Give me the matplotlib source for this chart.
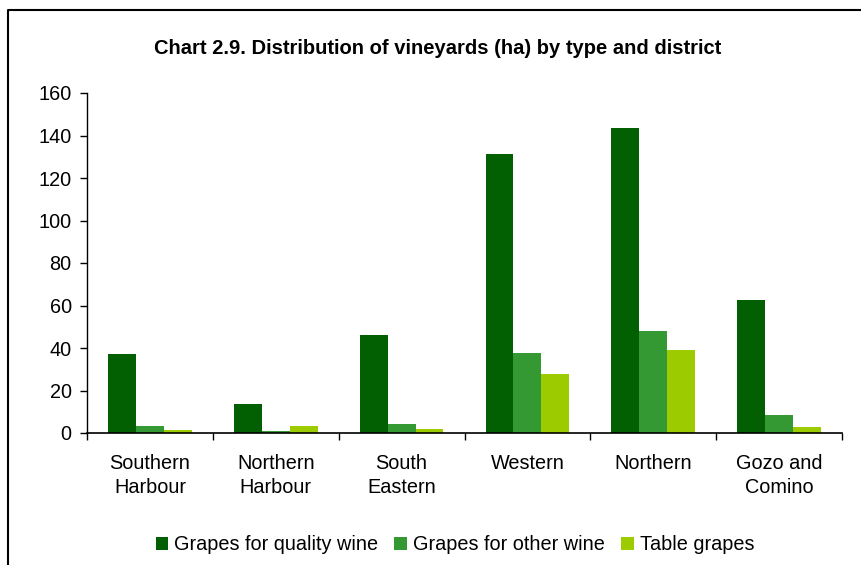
import numpy as np
import matplotlib.pyplot as plt
from matplotlib.lines import Line2D

plt.rcParams['font.family'] = ['Liberation Sans', 'DejaVu Sans']

districts = ['Southern\nHarbour', 'Northern\nHarbour', 'South\nEastern',
             'Western', 'Northern', 'Gozo and\nComino']
quality_wine = [37.2, 13.6, 46.1, 131.3, 143.5, 62.6]
other_wine = [3.3, 0.8, 4.3, 37.6, 48.0, 8.5]
table_grapes = [1.4, 3.3, 1.8, 27.8, 39.1, 2.8]

series = [('Grapes for quality wine', quality_wine, '#026003'),
          ('Grapes for other wine', other_wine, '#349933'),
          ('Table grapes', table_grapes, '#9ccc00')]

fig = plt.figure(figsize=(8.61, 5.65), dpi=100)
ax = fig.add_axes([87/861, 1-433/565, (842-87)/861, (433-93)/565])

x = np.arange(len(districts))
w = 0.222
for i, (name, vals, col) in enumerate(series):
    ax.bar(x + (i-1)*w, vals, w, color=col, label=name, zorder=2)

ax.set_xlim(-0.5, len(districts)-0.5)
ax.set_ylim(0, 160)
ax.set_yticks(range(0, 161, 20))
ax.set_xticks(np.arange(-0.5, len(districts)), labels=[''] * (len(districts)+1))
ax.set_xticks(x, labels=districts, minor=True)
ax.tick_params(axis='x', which='major', direction='out', length=5, width=1, color='black')
ax.tick_params(axis='x', which='minor', length=0, pad=15, labelsize=14.3)
ax.tick_params(axis='y', direction='out', length=5, width=1, pad=6, labelsize=14.3)
for s in ['top', 'right']:
    ax.spines[s].set_visible(False)
ax.spines['left'].set_linewidth(1)
ax.spines['bottom'].set_linewidth(1.2)
for lab in ax.get_xticklabels(minor=True):
    lab.set_linespacing(1.35)

fig.text(438/861, 1-48/565, 'Chart 2.9. Distribution of vineyards (ha) by type and district',
         fontsize=14.5, fontweight='bold', ha='center', va='center')

fig.legend(loc='center', bbox_to_anchor=(455/861, 1-545/565), ncol=3, frameon=False,
           fontsize=14.3, handlelength=0.65, handleheight=0.65, handletextpad=0.3,
           columnspacing=0.8)

fig.add_artist(Line2D([8/861, 8/861, 1], [0, 1-10/565, 1-10/565],
                      transform=fig.transFigure, color='black', lw=1.5))

fig.savefig('out.png', dpi=100)
